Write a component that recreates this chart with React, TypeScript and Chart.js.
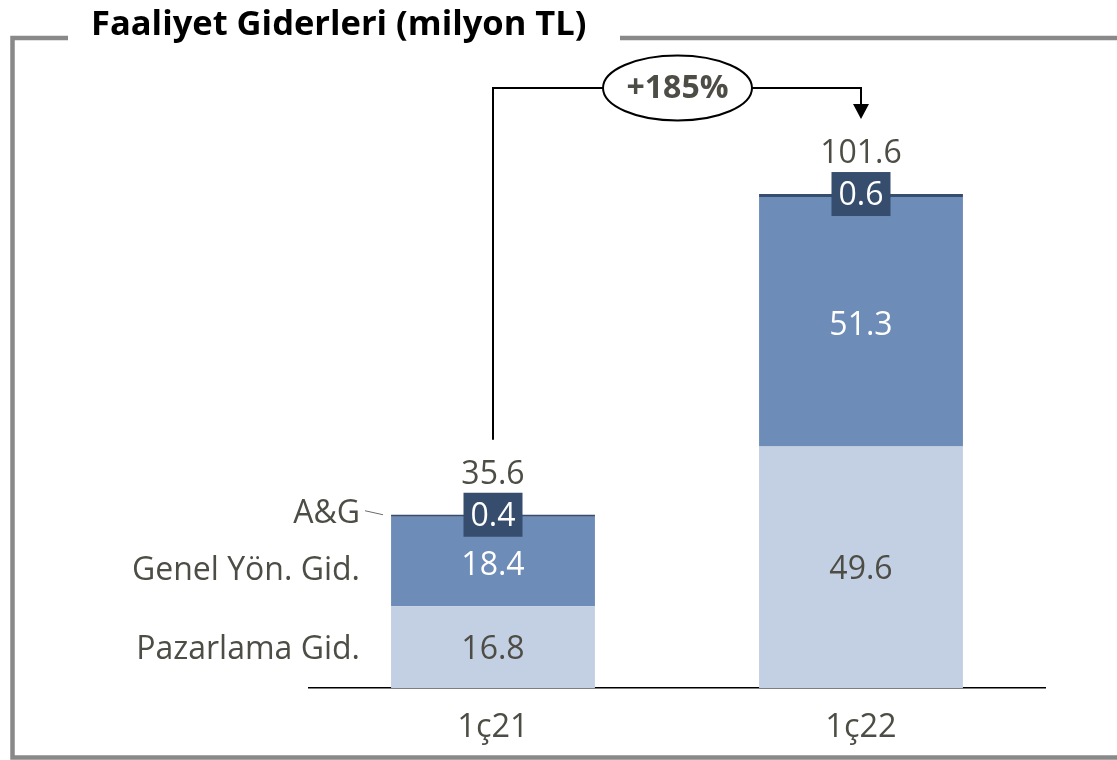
import React, { useEffect, useRef } from "react";
import { Chart, registerables } from "chart.js";

Chart.register(...registerables);

const categories = ["1ç21", "1ç22"];
const seriesNames = ["Pazarlama Gid.", "Genel Yön. Gid.", "A&G"];
const pazarlama = [16.8, 49.6];
const genelYon = [18.4, 51.3];
const ag = [0.4, 0.6];
const totals = ["35.6", "101.6"];
const growthLabel = "+185%";
const title = "Faaliyet Giderleri (milyon TL)";

const FONT = "'Open Sans', 'DejaVu Sans', sans-serif";
const TEXT = "#4d4d46";
const COLORS = ["#c3cfe2", "#6d8cb8", "#364d6e"];
const FS = 32;

const overlay = {
  id: "overlay",
  afterDraw(chart: any) {
    const ctx = chart.ctx as CanvasRenderingContext2D;
    const y = chart.scales.y;
    const m0 = chart.getDatasetMeta(0);
    const x0 = m0.data[0].x;
    const x1 = m0.data[1].x;
    ctx.save();

    // frame
    ctx.strokeStyle = "#898989";
    ctx.lineWidth = 4.5;
    ctx.beginPath();
    ctx.moveTo(68, 38);
    ctx.lineTo(12.5, 38);
    ctx.lineTo(12.5, 757.5);
    ctx.lineTo(1117, 757.5);
    ctx.moveTo(620, 38);
    ctx.lineTo(1117, 38);
    ctx.stroke();

    // title
    ctx.fillStyle = "#000";
    ctx.font = `bold 34.5px ${FONT}`;
    ctx.textAlign = "left";
    ctx.textBaseline = "alphabetic";
    ctx.fillText(title, 91, 35);

    ctx.textBaseline = "middle";
    ctx.textAlign = "center";

    // segment labels
    for (let i = 0; i < categories.length; i++) {
      const bx = m0.data[i].x;
      const p = pazarlama[i];
      const g = genelYon[i];
      const a = ag[i];
      ctx.font = `${FS}px ${FONT}`;
      ctx.fillStyle = TEXT;
      ctx.fillText(String(p), bx, y.getPixelForValue(p / 2) + 3);
      ctx.fillStyle = "#fff";
      ctx.fillText(String(g), bx, y.getPixelForValue(p + g / 2) + 4);
      // A&G box
      const top = y.getPixelForValue(p + g + a);
      ctx.fillStyle = COLORS[2];
      ctx.fillRect(bx - 29.5, top - 22, 59, 44);
      ctx.fillStyle = "#fff";
      ctx.fillText(String(a), bx, top + 2);
      // total
      ctx.fillStyle = TEXT;
      ctx.fillText(totals[i], bx, top - 40);
    }

    // series labels on left
    const p0 = pazarlama[0];
    const g0 = genelYon[0];
    const a0 = ag[0];
    ctx.textAlign = "right";
    ctx.fillStyle = TEXT;
    ctx.font = `${FS}px ${FONT}`;
    ctx.fillText(seriesNames[0], 360, y.getPixelForValue(p0 / 2) + 3);
    ctx.fillText(seriesNames[1], 360, y.getPixelForValue(p0 + g0 / 2) + 9);
    const agTop = y.getPixelForValue(p0 + g0 + a0);
    ctx.fillText(seriesNames[2], 360, agTop - 1);
    ctx.strokeStyle = "#6b6b6b";
    ctx.lineWidth = 1;
    ctx.beginPath();
    ctx.moveTo(365, agTop - 4);
    ctx.lineTo(383, agTop);
    ctx.stroke();

    // growth connector
    const top0 = y.getPixelForValue(p0 + g0 + a0) - 75;
    const lineY = 88;
    const ex = 677.5;
    const rx = 74.5;
    const ry = 32.5;
    const barTop1 = y.getPixelForValue(pazarlama[1] + genelYon[1] + ag[1]);
    const tipY = barTop1 - 75;
    ctx.strokeStyle = "#000";
    ctx.lineWidth = 2;
    ctx.beginPath();
    ctx.moveTo(x0, top0);
    ctx.lineTo(x0, lineY);
    ctx.lineTo(ex - rx, lineY);
    ctx.moveTo(ex + rx, lineY);
    ctx.lineTo(x1, lineY);
    ctx.lineTo(x1, tipY - 14);
    ctx.stroke();
    ctx.fillStyle = "#000";
    ctx.beginPath();
    ctx.moveTo(x1 - 8, tipY - 15);
    ctx.lineTo(x1 + 8, tipY - 15);
    ctx.lineTo(x1, tipY);
    ctx.closePath();
    ctx.fill();

    ctx.fillStyle = "#fff";
    ctx.lineWidth = 2;
    ctx.beginPath();
    ctx.ellipse(ex, lineY, rx, ry, 0, 0, Math.PI * 2);
    ctx.fill();
    ctx.stroke();
    ctx.fillStyle = TEXT;
    ctx.textAlign = "center";
    ctx.font = `bold 32px ${FONT}`;
    ctx.fillText(growthLabel, ex, lineY + 1);

    ctx.restore();
  },
};

export default function App() {
  const ref = useRef<HTMLCanvasElement>(null);
  useEffect(() => {
    if (!ref.current) return;
    const chart = new Chart(ref.current, {
      type: "bar",
      data: {
        labels: categories,
        datasets: [
          { label: seriesNames[0], data: pazarlama, backgroundColor: COLORS[0] },
          { label: seriesNames[1], data: genelYon, backgroundColor: COLORS[1] },
          { label: seriesNames[2], data: ag, backgroundColor: COLORS[2] },
        ].map((d) => ({ ...d, barPercentage: 0.554, categoryPercentage: 1, borderWidth: 0 })),
      },
      options: {
        animation: false,
        responsive: false,
        layout: { padding: { left: 309, right: 72, top: 104, bottom: 0 } },
        plugins: { legend: { display: false }, tooltip: { enabled: false } },
        scales: {
          x: {
            stacked: true,
            grid: { display: false },
            border: { display: true, color: "#000", width: 1.5 },
            ticks: { color: TEXT, font: { family: FONT, size: 32.5 }, padding: 12 },
            afterFit: (s: any) => {
              s.height = 72;
            },
          },
          y: { stacked: true, display: false, min: 0, max: 120 },
        },
      },
      plugins: [overlay],
    });
    return () => chart.destroy();
  }, []);
  return (
    <div style={{ position: "fixed", left: 0, top: 0, width: 1117, height: 760, background: "#fff" }}>
      <canvas ref={ref} width={1117} height={760} />
    </div>
  );
}
